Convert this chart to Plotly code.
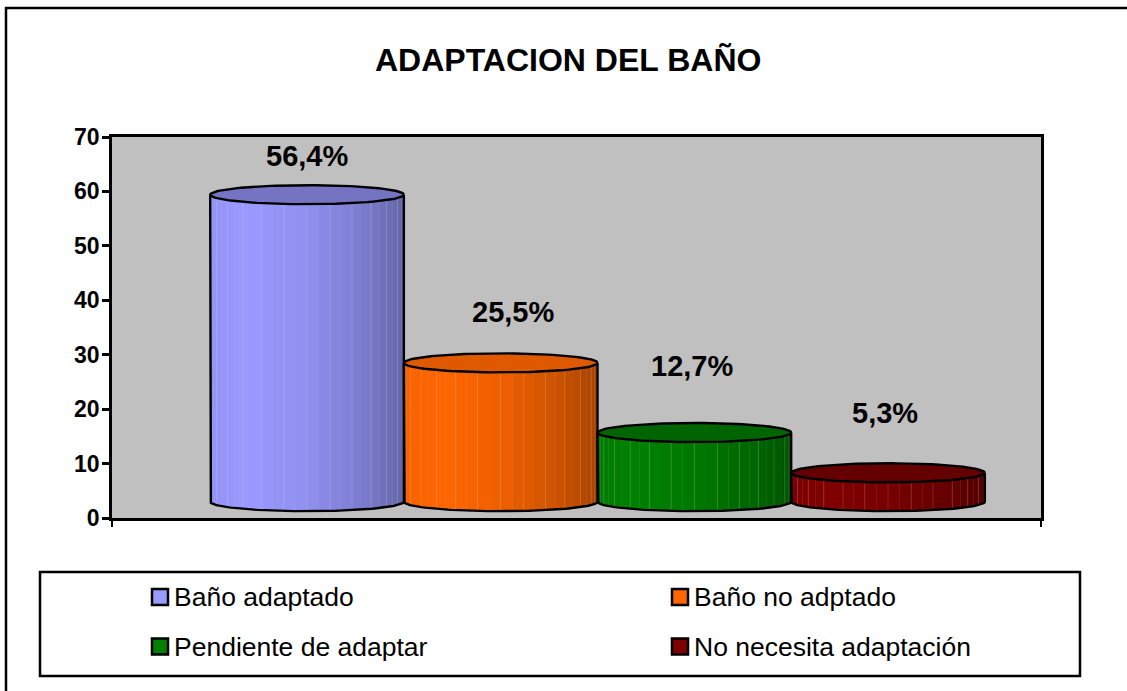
import numpy as np
import plotly.graph_objects as go

title = "ADAPTACION DEL BAÑO"
categories = ["Baño adaptado", "Baño no adptado", "Pendiente de adaptar", "No necesita adaptación"]
values = [56.4, 25.5, 12.7, 5.3]
labels = ["56,4%", "25,5%", "12,7%", "5,3%"]
y_ticks = [0, 10, 20, 30, 40, 50, 60, 70]
colors = [(153, 153, 255), (255, 102, 0), (0, 128, 0), (128, 0, 0)]
top_shade = [0.76, 0.87, 0.78, 0.78]

W, H = 1127, 691
FONT = "Liberation Sans, Arial, sans-serif"
FLOOR = 3.0      # height of the 3D floor under the cylinders
RY = 1.75        # vertical radius of the ellipses in axis units
XMIN, XMAX = -1.007, 3.79
N = 26

def px(x): return x / W
def py(y): return 1 - y / H
def shade(c, f):
    return "rgb(%d,%d,%d)" % tuple(min(255, int(round(v * f))) for v in c)
def shade_at(t):
    # t: 0 at left edge to 1 at right edge of the cylinder
    return np.interp(t, [0, 0.2, 0.5, 0.8, 1.0], [0.97, 1.0, 0.94, 0.8, 0.66])

fig = go.Figure()

for i, (name, v, c) in enumerate(zip(categories, values, colors)):
    bottom, top = FLOOR, FLOOR + v
    # strips are even in angle around the cylinder, so they narrow at the edges
    ang = np.linspace(np.pi, 0, N + 1)
    for a0, a1 in zip(ang[:-1], ang[1:]):
        aa = np.linspace(a0, a1, 5)
        sx = i + np.cos(aa) / 2
        sin = np.sin(aa) * RY
        t = (np.cos((a0 + a1) / 2) + 1) / 2
        fig.add_trace(go.Scatter(
            x=np.r_[sx, sx[::-1]], y=np.r_[bottom - sin, (top - sin)[::-1]],
            mode="lines", line=dict(width=0.6, color=shade(c, shade_at(t))),
            fill="toself", fillcolor=shade(c, shade_at(t)),
            hoverinfo="skip", showlegend=False))
    # pale seams between some strips
    sx, sy = [], []
    for a in ang[1:-1:2]:
        sx += [i + np.cos(a) / 2, i + np.cos(a) / 2, None]
        sy += [bottom - np.sin(a) * RY, top - np.sin(a) * RY, None]
    fig.add_trace(go.Scatter(x=sx, y=sy, mode="lines",
                             line=dict(width=1, color="rgba(255,255,255,0.13)"),
                             hoverinfo="skip", showlegend=False))
    # outline of wall
    aa = np.linspace(np.pi, 0, 80)
    ox = np.r_[i - 0.5, i + np.cos(aa) / 2, i + 0.5]
    oy = np.r_[top, bottom - np.sin(aa) * RY, top]
    fig.add_trace(go.Scatter(x=ox, y=oy, mode="lines", line=dict(width=2.4, color="black"),
                             hoverinfo="skip", showlegend=False))
    # top face
    aa = np.linspace(0, 2 * np.pi, 120)
    fig.add_trace(go.Scatter(x=i + np.cos(aa) / 2, y=top + np.sin(aa) * RY, mode="lines",
                             line=dict(width=2.4, color="black"), fill="toself",
                             fillcolor=shade(c, top_shade[i]), name=name, hoverinfo="name",
                             showlegend=False))

label_shift = [(0, 39), (12, 51), (-2, 67), (-3, 60)]
ann = []
for i, (v, lab, (dx, dy)) in enumerate(zip(values, labels, label_shift)):
    ann.append(dict(x=i, y=v + FLOOR, xref="x", yref="y", text="<b>%s</b>" % lab, showarrow=False,
                    xanchor="center", yanchor="middle", xshift=dx, yshift=dy,
                    font=dict(family=FONT, size=29, color="black")))

ann.append(dict(x=568 / W, y=py(60), xref="paper", yref="paper", text="<b>%s</b>" % title,
                showarrow=False, xanchor="center", yanchor="middle",
                font=dict(family=FONT, size=32, color="black")))

shapes = [
    dict(type="line", xref="paper", yref="paper", x0=px(6), x1=px(6), y0=py(7), y1=0,
         line=dict(color="black", width=2.5)),
    dict(type="line", xref="paper", yref="paper", x0=px(5), x1=1, y0=py(8), y1=py(8),
         line=dict(color="black", width=2.5)),
    dict(type="rect", xref="paper", yref="paper", x0=px(40), x1=px(1080), y0=py(572), y1=py(676),
         line=dict(color="black", width=2.5), fillcolor="white"),
]
legend_x = [152, 672]
legend_y = [597, 646.5]
for i, (name, c) in enumerate(zip(categories, colors)):
    lx, ly = legend_x[i % 2], legend_y[i // 2]
    shapes.append(dict(type="rect", xref="paper", yref="paper", x0=px(lx), x1=px(lx + 16),
                       y0=py(ly - 8), y1=py(ly + 8), line=dict(color="black", width=2.5),
                       fillcolor=shade(c, 1)))
    ann.append(dict(x=px(lx + 20), y=py(ly), xref="paper", yref="paper", text=name, showarrow=False,
                    xanchor="left", yanchor="middle", font=dict(family=FONT, size=26.5, color="black")))

fig.update_layout(
    width=W, height=H, margin=dict(l=0, r=0, t=0, b=0),
    paper_bgcolor="white", plot_bgcolor="#C0C0C0", showlegend=False,
    annotations=ann, shapes=shapes,
    xaxis=dict(domain=[px(112), px(1041)], range=[XMIN, XMAX], tickvals=[XMIN, XMAX], ticktext=["", ""],
               automargin=False,
               ticks="outside", ticklen=6, tickwidth=2, tickcolor="black", showgrid=False, zeroline=False,
               showline=True, linecolor="black", linewidth=2.5, mirror=True),
    yaxis=dict(domain=[py(518), py(137)], range=[0, 70], tickvals=y_ticks,
               automargin=False, ticklabelstandoff=-2,
               ticks="outside", ticklen=7, tickwidth=2.5, tickcolor="black", showgrid=False, zeroline=False,
               showline=True, linecolor="black", linewidth=2.5, mirror=True,
               tickfont=dict(family=FONT, size=23, color="black", weight="bold")),
)

fig.write_html("out.html", config=dict(displayModeBar=False),
               post_script="document.body.style.margin='0';")
